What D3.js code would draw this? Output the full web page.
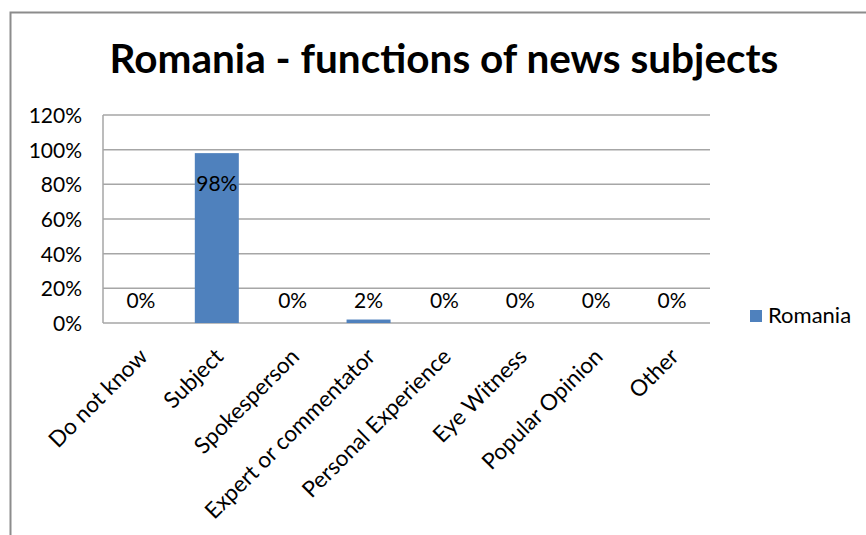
<!DOCTYPE html>
<html>
<head>
<meta charset="utf-8">
<script src="https://cdn.jsdelivr.net/npm/d3@7"></script>
<style>
  html, body { margin: 0; padding: 0; background: #fff; }
  svg { display: block; }
  text { font-family: Lato, "Open Sans", "DejaVu Sans", sans-serif; fill: #000; }
</style>
</head>
<body>
<script>
// Functions of news subjects, Romania
const categories = ["Do not know", "Subject", "Spokesperson", "Expert or commentator",
                    "Personal Experience", "Eye Witness", "Popular Opinion", "Other"];
const values = [0, 98, 0, 2, 0, 0, 0, 0];
const valueLabels = ["0%", "98%", "0%", "2%", "0%", "0%", "0%", "0%"];
const yTicks = [0, 20, 40, 60, 80, 100, 120];
const seriesName = "Romania";
const titleText = "Romania - functions of news subjects";

const W = 866, H = 535;
const plot = { left: 103, right: 710, top: 115, bottom: 323 };
const barColor = "#4f81bd";
const gridColor = "#a6a6a6";
const labelSize = "21px";

const svg = d3.select("body").append("svg").attr("width", W).attr("height", H);

// outer chart frame
svg.append("rect")
  .attr("x", 10.5).attr("y", 12.5).attr("width", 900).attr("height", 600)
  .attr("fill", "#fff").attr("stroke", "#8c8c8c").attr("stroke-width", 2);

svg.append("text")
  .attr("x", 444).attr("y", 73)
  .attr("text-anchor", "middle")
  .style("font-size", "40.5px").style("font-weight", "bold")
  .text(titleText);

const x = d3.scaleBand().domain(categories).range([plot.left, plot.right]).paddingInner(0.42).paddingOuter(0.21);
const xc = d3.scaleBand().domain(categories).range([plot.left, plot.right]);
const y = d3.scaleLinear().domain([0, 120]).range([plot.bottom, plot.top]);

// horizontal gridlines
svg.append("g").selectAll("line").data(yTicks).join("line")
  .attr("x1", plot.left).attr("x2", plot.right)
  .attr("y1", d => y(d)).attr("y2", d => y(d))
  .attr("stroke", gridColor).attr("stroke-width", 1.5);

// value axis line
svg.append("line")
  .attr("x1", plot.left).attr("x2", plot.left)
  .attr("y1", plot.top).attr("y2", plot.bottom)
  .attr("stroke", gridColor).attr("stroke-width", 1.5);

// y axis labels
const yAxis = d3.axisLeft(y).tickValues(yTicks).tickFormat(d => d + "%").tickSize(0).tickPadding(21);
const ya = svg.append("g").attr("transform", `translate(${plot.left},0)`).call(yAxis);
ya.select(".domain").remove();
ya.selectAll("text").style("font-size", labelSize).style("font-family", "Lato, 'Open Sans', sans-serif").attr("fill", "#000").attr("dy", "0.35em");

// bars
svg.append("g").selectAll("rect").data(values).join("rect")
  .attr("x", (d, i) => x(categories[i]))
  .attr("width", x.bandwidth())
  .attr("y", d => y(d))
  .attr("height", d => plot.bottom - y(d))
  .attr("fill", barColor);

// value labels
svg.append("g").selectAll("text").data(values).join("text")
  .attr("x", (d, i) => xc(categories[i]) + xc.bandwidth() / 2)
  .attr("y", d => (plot.bottom - y(d) > 60 ? y(d) + 38 : y(0) - 15))
  .attr("text-anchor", "middle")
  .style("font-size", labelSize)
  .text((d, i) => valueLabels[i]);

// category labels, rotated
svg.append("g").selectAll("text").data(categories).join("text")
  .attr("transform", d => `translate(${xc(d) + xc.bandwidth() / 2 + 8},${plot.bottom + 35}) rotate(-45)`)
  .attr("text-anchor", "end")
  .style("font-size", "22.5px")
  .text(d => d);

// legend
svg.append("rect").attr("x", 750).attr("y", 310).attr("width", 12).attr("height", 12).attr("fill", barColor);
svg.append("text").attr("x", 768).attr("y", 323).style("font-size", "22px").text(seriesName);
</script>
</body>
</html>
